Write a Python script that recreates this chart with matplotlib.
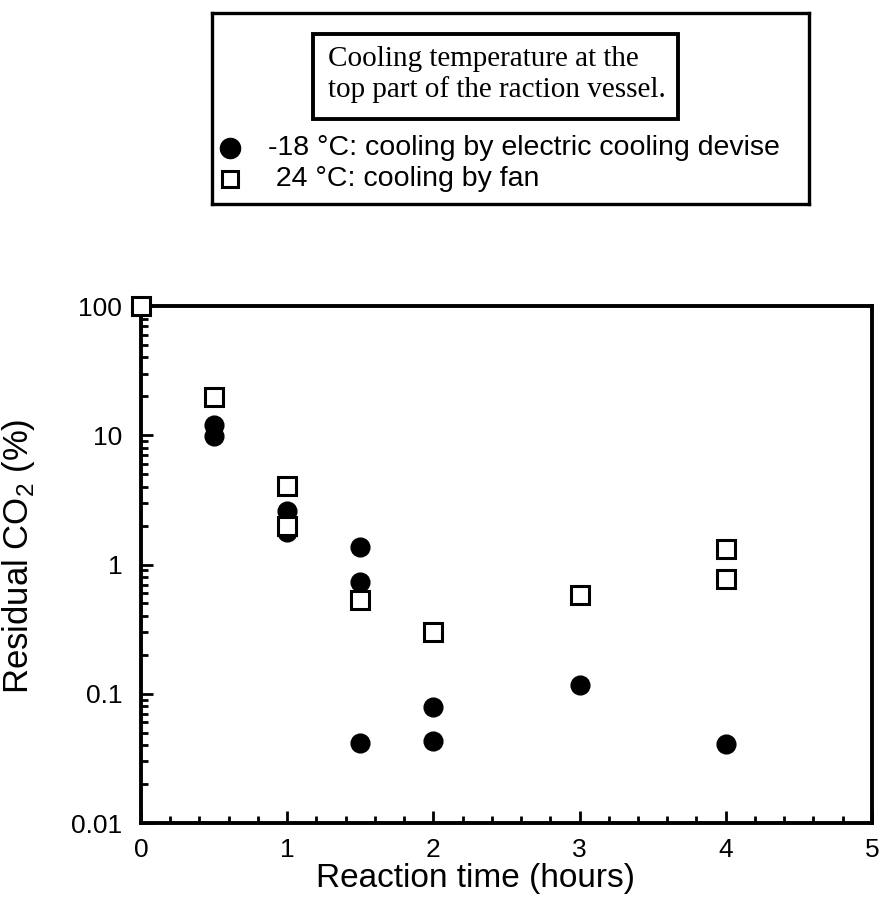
import matplotlib
matplotlib.use('Agg')
import matplotlib.pyplot as plt
import numpy as np
from matplotlib.ticker import FixedLocator, FuncFormatter, LogLocator, NullFormatter
from matplotlib.patches import Rectangle

# data
time_cooled = [0.5, 0.5, 1.0, 1.0, 1.5, 1.5, 1.5, 2.0, 2.0, 3.0, 4.0]
co2_cooled = [12.0, 9.8, 2.58, 1.77, 1.37, 0.73, 0.0415, 0.079, 0.043, 0.117, 0.041]

time_fan = [0.0, 0.5, 1.0, 1.0, 1.5, 2.0, 3.0, 4.0, 4.0]
co2_fan = [100.0, 19.6, 4.07, 2.0, 0.53, 0.30, 0.58, 1.31, 0.77]

label_cooled = '-18 \u00b0C: cooling by electric cooling devise'
label_fan = ' 24 \u00b0C: cooling by fan'
box_title = 'Cooling temperature at the\ntop part of the raction vessel.'

plt.rcParams['font.family'] = ['Liberation Sans', 'DejaVu Sans']
plt.rcParams['mathtext.fontset'] = 'custom'
plt.rcParams['mathtext.rm'] = 'Liberation Sans'

fig = plt.figure(figsize=(8.81, 8.99), dpi=100)
ax = fig.add_axes([0.1600, 0.0845, 0.8297, 0.5751])

ax.plot(time_cooled, co2_cooled, 'o', color='black', markersize=13.5, zorder=3, clip_on=False)
ax.plot(time_fan, co2_fan, 's', markerfacecolor='white', markeredgecolor='black',
        markersize=13, markeredgewidth=2.2, zorder=4, clip_on=False)

ax.set_yscale('log')
ax.set_ylim(0.01, 100)
ax.set_xlim(0, 5)

ax.xaxis.set_major_locator(FixedLocator([0, 1, 2, 3, 4, 5]))
ax.xaxis.set_minor_locator(FixedLocator(np.arange(0, 5.01, 0.2)))
ax.yaxis.set_major_locator(FixedLocator([0.01, 0.1, 1, 10, 100]))
ax.yaxis.set_minor_locator(LogLocator(base=10, subs=np.arange(2, 10)))
ax.yaxis.set_minor_formatter(NullFormatter())
ax.yaxis.set_major_formatter(FuncFormatter(lambda v, p: '%g' % v))

for s in ax.spines.values():
    s.set_linewidth(2.8)
ax.tick_params(which='both', direction='in', top=False, right=False, width=2.0)
ax.tick_params(which='major', length=8.5, labelsize=19, pad=13.5)
ax.tick_params(axis='x', which='major', pad=10.5)
ax.tick_params(which='minor', length=5)

ax.set_xlabel('Reaction time (hours)', fontsize=24)
ax.set_ylabel('Residual CO$_\\mathregular{2}$ (%)', fontsize=25)
ax.xaxis.set_label_coords(0.458, -0.077)
ax.yaxis.set_label_coords(-0.142, 0.516)

# legend box drawn as its own frame above the plot
lax = fig.add_axes([0.2406, 0.7731, 0.6776, 0.2125])
lax.set_xlim(0, 1)
lax.set_ylim(0, 1)
lax.set_xticks([])
lax.set_yticks([])
for s in lax.spines.values():
    s.set_linewidth(2.4)

lax.add_patch(Rectangle((0.169, 0.445), 0.612, 0.445, fill=False, linewidth=2.8,
                        edgecolor='black', transform=lax.transAxes))
lax.text(0.194, 0.678, box_title, fontsize=21, family='Liberation Serif',
         va='center', ha='left', linespacing=1.2)

lax.plot([0.030], [0.293], 'o', color='black', markersize=14.5)
lax.plot([0.030], [0.131], 's', markerfacecolor='white', markeredgecolor='black',
         markersize=12, markeredgewidth=2.2)
lax.text(0.094, 0.293, label_cooled, fontsize=20.5, va='center', ha='left')
lax.text(0.094, 0.131, label_fan, fontsize=20.5, va='center', ha='left')

fig.savefig('out.png', dpi=100)
